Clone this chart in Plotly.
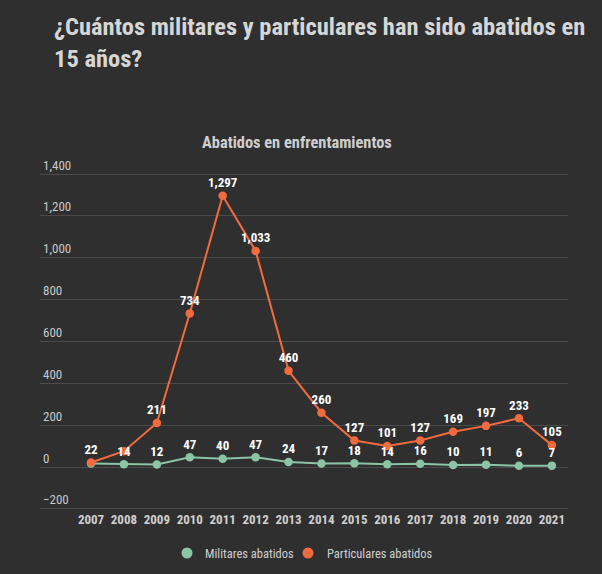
import plotly.graph_objects as go

years = [2007, 2008, 2009, 2010, 2011, 2012, 2013, 2014, 2015, 2016, 2017, 2018, 2019, 2020, 2021]
militares = [17, 14, 12, 47, 40, 47, 24, 17, 18, 14, 16, 10, 11, 6, 7]
particulares = [22, 76, 211, 734, 1297, 1033, 460, 260, 127, 101, 127, 169, 197, 233, 105]
# labels hidden in the original because of overlap
hide_mil = [2007]
hide_par = [2008]
series_names = ["Militares abatidos", "Particulares abatidos"]
y_ticks = [-200, 0, 200, 400, 600, 800, 1000, 1200, 1400]

GREEN = "#8cc4a6"
ORANGE = "#f26b3f"
BG = "#2f2f2f"
FONT = "Roboto Condensed, Liberation Sans Narrow, Roboto, sans-serif"

W, H = 602, 574
ML, MR, MT, MB = 40, 34, 149, 64
PW, PH = W - ML - MR, H - MT - MB


def px(x):
    return (x - ML) / PW


def py(y):
    return (H - MB - y) / PH


def labels(vals, hide):
    return ["" if y in hide else f"{v:,}" for y, v in zip(years, vals)]


series = [(militares, hide_mil, GREEN, series_names[0]),
          (particulares, hide_par, ORANGE, series_names[1])]

fig = go.Figure()
for vals, hide, color, nm in series:
    fig.add_trace(go.Scatter(
        x=years, y=vals, mode="lines+markers", name=nm,
        line=dict(color=color, width=2), marker=dict(size=8.5, color=color),
        showlegend=False, cliponaxis=False))
for vals, hide, color, nm in series:
    fig.add_trace(go.Scatter(
        x=years, y=vals, mode="markers+text", name=nm,
        marker=dict(size=7, color="rgba(0,0,0,0)"),
        text=labels(vals, hide), textposition="top center",
        textfont=dict(color="white", size=13, family=FONT, weight="bold"),
        showlegend=False, cliponaxis=False, hoverinfo="skip"))

annotations = [
    dict(text="<b>¿Cuántos militares y particulares han sido abatidos en<br>15 años?</b>",
         x=px(52), y=py(10), xanchor="left", yanchor="top", align="left",
         font=dict(size=24.5, color="#d6d6d6", family=FONT)),
    dict(text="<b>Abatidos en enfrentamientos</b>", x=px(297), y=py(143),
         xanchor="center", yanchor="middle",
         font=dict(size=16.4, color="#cfcfcf", family=FONT)),
]
shapes = []
# manual legend
leg_items = [(series_names[0], GREEN, 187, 203), (series_names[1], ORANGE, 308, 325)]
for nm, c, cx, tx in leg_items:
    r = 5.5
    shapes.append(dict(type="circle", xref="paper", yref="paper",
                       x0=px(cx - r), x1=px(cx + r), y0=py(553 + r), y1=py(553 - r),
                       fillcolor=c, line=dict(width=0)))
    annotations.append(dict(text=nm, x=px(tx), y=py(553), xanchor="left", yanchor="middle",
                            font=dict(size=12.5, color="#cfcfcf", family=FONT)))
for a in annotations:
    a.update(xref="paper", yref="paper", showarrow=False)

fig.update_layout(
    width=W, height=H,
    paper_bgcolor=BG, plot_bgcolor=BG,
    margin=dict(l=ML, r=MR, t=MT, b=MB),
    font=dict(family=FONT, color="#cfcfcf", size=13),
    annotations=annotations, shapes=shapes,
    showlegend=False,
)
fig.update_xaxes(range=[2005.45, 2021.49], tickvals=years, ticktext=[str(y) for y in years],
                 showgrid=False, zeroline=False, showline=False,
                 tickfont=dict(size=13, color="#d0d0d0", family=FONT, weight="bold"), ticklen=0)
fig.update_yaxes(range=[-205, 1520], tickvals=y_ticks,
                 tickformat=",", ticklabelposition="inside top",
                 gridcolor="#4b4b4b", gridwidth=1, zeroline=True, zerolinecolor="#4b4b4b", zerolinewidth=1,
                 tickfont=dict(size=13, color="#c8c8c8", family=FONT), showline=False)

fig.write_html("out.html")
